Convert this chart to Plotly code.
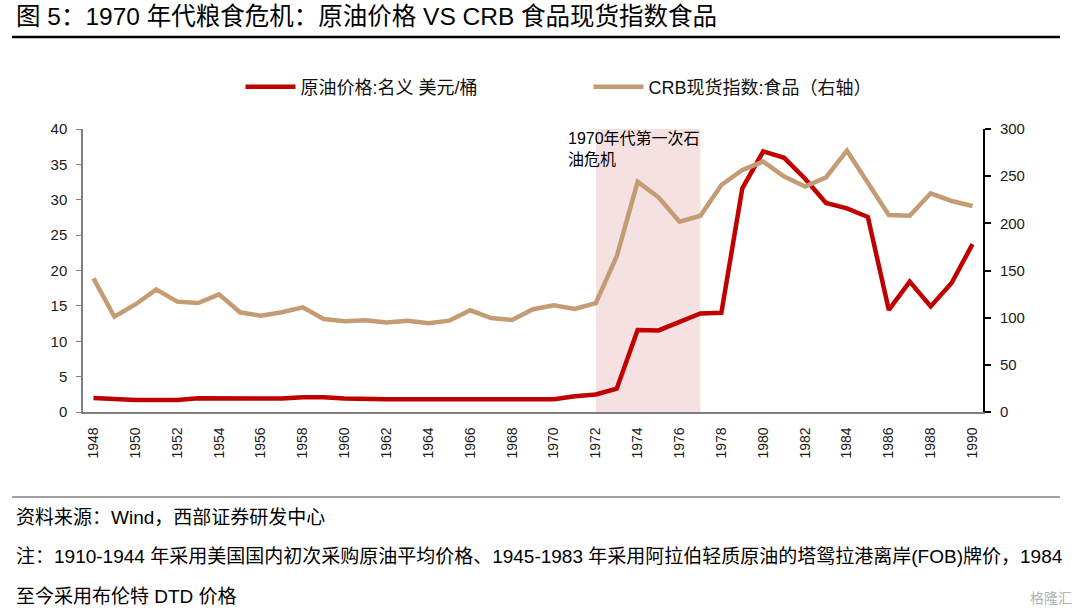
import plotly.graph_objects as go

# ---- data ----
years = list(range(1948, 1991))
oil_price = [1.99, 1.78, 1.71, 1.71, 1.71, 1.93, 1.93, 1.93, 1.93, 1.90,
             2.08, 2.08, 1.90, 1.80, 1.80, 1.80, 1.80, 1.80, 1.80, 1.80,
             1.80, 1.80, 1.80, 2.24, 2.48, 3.29, 11.58, 11.53, 12.80, 13.92,
             14.02, 31.61, 36.83, 35.93, 32.97, 29.55, 28.78, 27.56, 14.43, 18.44,
             14.92, 18.23, 23.73]
crb_food = [141.7, 101, 114, 130, 117, 115.5, 124.7, 105.7, 102, 105.7,
            111, 98.6, 96.1, 97.2, 95, 96.8, 94, 96.8, 107.8, 99.6,
            97.5, 108.9, 113, 109.2, 115.5, 165, 244, 227.6, 201.8, 208,
            240.6, 256.5, 265.4, 249.5, 238.9, 248.8, 277, 242.4, 208.8, 208,
            231.8, 223.7, 218.4]
label_years = years[::2]
boundary_ticks = [y + 1.5 for y in years[::2]][:-1]
crisis_start, crisis_end = 1972, 1977
left_ticks = list(range(0, 41, 5))
right_ticks = list(range(0, 301, 50))

FONT = "Liberation Sans, Arial, Noto Sans CJK SC, sans-serif"
RED = "#C00000"
TAN = "#C49C74"

fig = go.Figure()
fig.add_trace(go.Scatter(x=years, y=oil_price, name="原油价格:名义 美元/桶",
                         mode="lines", line=dict(color=RED, width=4.5),
                         yaxis="y"))
fig.add_trace(go.Scatter(x=years, y=crb_food, name="CRB现货指数:食品（右轴）",
                         mode="lines", line=dict(color=TAN, width=4.5),
                         yaxis="y2"))

fig.add_vrect(x0=crisis_start, x1=crisis_end, fillcolor="#F5E1E1",
              line_width=0, layer="below")

xr = [years[0] - 0.5, years[-1] + 0.5]

fig.update_layout(
    width=1080, height=616,
    margin=dict(l=83, r=97, t=129, b=204),
    paper_bgcolor="white", plot_bgcolor="white",
    font=dict(family=FONT, color="#1a1a1a"),
    showlegend=True,
    legend=dict(orientation="h", x=0.175, y=1.148, xanchor="left",
                yanchor="middle", font=dict(size=18, color="#111"),
                entrywidth=283, entrywidthmode="pixels",
                bgcolor="rgba(0,0,0,0)", itemwidth=50),
    xaxis=dict(range=xr, tickmode="array", tickvals=label_years,
               ticktext=[str(y) for y in label_years], tickangle=-90,
               ticks="", showline=True, linecolor="#7f7f7f", linewidth=1.5,
               showgrid=False, zeroline=False,
               tickfont=dict(size=14, color="#1a1a1a"),
               ticklabelstandoff=8),
    xaxis2=dict(range=xr, overlaying="x", anchor="y", side="bottom",
                tickmode="array", tickvals=boundary_ticks, ticks="inside",
                ticklen=5, tickcolor="#7f7f7f", tickwidth=1.2,
                showticklabels=False, showline=False, showgrid=False,
                zeroline=False),
    yaxis=dict(range=[0, 40], tickmode="array", tickvals=left_ticks,
               ticks="outside", ticklen=5, tickcolor="#7f7f7f", tickwidth=1.2,
               showline=True, linecolor="#7f7f7f", linewidth=1.5,
               showgrid=False, zeroline=False,
               tickfont=dict(size=15, color="#1a1a1a"), ticklabelstandoff=6),
    yaxis2=dict(range=[0, 300], tickmode="array", tickvals=right_ticks,
                overlaying="y", side="right", anchor="x",
                ticks="outside", ticklen=6, tickcolor="#000", tickwidth=1.5,
                showline=True, linecolor="#000", linewidth=1.8,
                showgrid=False, zeroline=False,
                tickfont=dict(size=15, color="#1a1a1a"), ticklabelstandoff=6),
)

PW, PH, L, T = 900, 283, 83, 129


def px(xp):
    return (xp - L) / PW


def py(yp):
    return (T + PH - yp) / PH


annos = [
    dict(text="图 5：1970 年代粮食危机：原油价格 VS CRB 食品现货指数食品",
         x=px(14), y=py(16), size=24.5, color="#000"),
    dict(text="资料来源：Wind，西部证券研发中心",
         x=px(14), y=py(517), size=19, color="#000"),
    dict(text="注：1910-1944 年采用美国国内初次采购原油平均价格、1945-1983 年采用阿拉伯轻质原油的塔鸳拉港离岸(FOB)牌价，1984",
         x=px(14), y=py(556), size=19, color="#000"),
    dict(text="至今采用布伦特 DTD 价格",
         x=px(14), y=py(596), size=19, color="#000"),
]
for a in annos:
    fig.add_annotation(text=a["text"], xref="paper", yref="paper",
                       x=a["x"], y=a["y"], xanchor="left", yanchor="middle",
                       showarrow=False,
                       font=dict(size=a["size"], color=a["color"], family=FONT))

fig.add_annotation(text="1970年代第一次石<br>油危机", xref="paper", yref="paper",
                   x=px(566), y=py(128), xanchor="left", yanchor="top",
                   align="left", showarrow=False,
                   font=dict(size=16, color="#000", family=FONT))

fig.add_annotation(text="格隆汇", xref="paper", yref="paper",
                   x=px(1074), y=py(598), xanchor="right", yanchor="middle",
                   showarrow=False, font=dict(size=14, color="#b0b0b0", family=FONT))

fig.add_shape(type="line", xref="paper", yref="paper",
              x0=px(12), x1=px(1060), y0=py(37), y1=py(37),
              line=dict(color="#000", width=2.5))
fig.add_shape(type="line", xref="paper", yref="paper",
              x0=px(12), x1=px(1060), y0=py(497), y1=py(497),
              line=dict(color="#7f7f7f", width=1.5))

# remove the browser's default 8px body margin so the figure fills the window
fig.write_html("out.html",
               config={"displayModeBar": False},
               post_script="document.body.style.margin='0';"
                           "document.body.style.overflow='hidden';")
